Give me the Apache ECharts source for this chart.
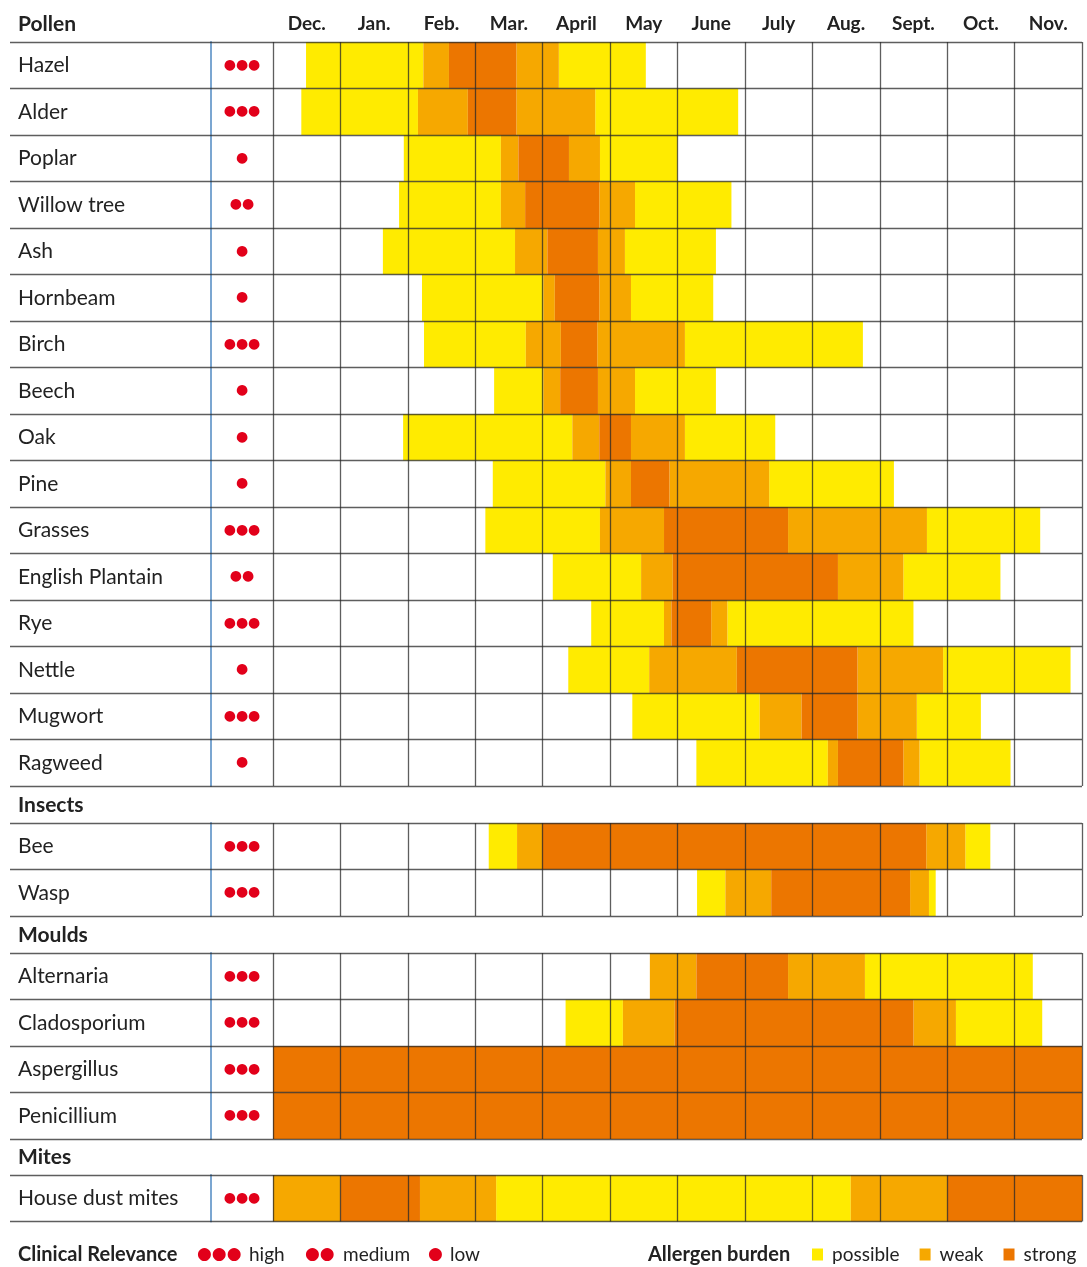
<!DOCTYPE html>
<html>
<head>
<meta charset="utf-8">
<title>Allergen calendar</title>
<script src="https://cdn.jsdelivr.net/npm/echarts@6/dist/echarts.min.js"></script>
<style>
  html, body { margin: 0; padding: 0; background: #fff; }
  #main { width: 1087px; height: 1267px; }
</style>
</head>
<body>
<div id="main"></div>
<script>
  // month columns, Dec. -> Nov.
  const months = ['Dec.', 'Jan.', 'Feb.', 'Mar.', 'April', 'May', 'June', 'July', 'Aug.', 'Sept.', 'Oct.', 'Nov.']

  // allergen burden levels
  const levelNames = ['possible', 'weak', 'strong']
  const levelColors = ['#ffeb00', '#f6a800', '#ec7600']

  // segments: [from month, to month, level]  (0 = start of Dec.)
  const pollenNames = ['Hazel', 'Alder', 'Poplar', 'Willow tree', 'Ash', 'Hornbeam', 'Birch', 'Beech',
    'Oak', 'Pine', 'Grasses', 'English Plantain', 'Rye', 'Nettle', 'Mugwort', 'Ragweed']
  const pollenRelevance = [3, 3, 1, 2, 1, 1, 3, 1, 1, 1, 3, 2, 3, 1, 3, 1]
  const pollenSegments = [
    [[0.49, 2.23, 0], [2.23, 2.61, 1], [2.61, 3.61, 2], [3.61, 4.24, 1], [4.24, 5.53, 0]],
    [[0.42, 2.15, 0], [2.15, 2.89, 1], [2.89, 3.61, 2], [3.61, 4.78, 1], [4.78, 6.90, 0]],
    [[1.94, 3.38, 0], [3.38, 3.64, 1], [3.64, 4.39, 2], [4.39, 4.85, 1], [4.85, 6.00, 0]],
    [[1.87, 3.38, 0], [3.38, 3.74, 1], [3.74, 4.84, 2], [4.84, 5.37, 1], [5.37, 6.80, 0]],
    [[1.63, 3.59, 0], [3.59, 4.07, 1], [4.07, 4.82, 2], [4.82, 5.22, 1], [5.22, 6.57, 0]],
    [[2.21, 4.01, 0], [4.01, 4.18, 1], [4.18, 4.84, 2], [4.84, 5.31, 1], [5.31, 6.53, 0]],
    [[2.24, 3.75, 0], [3.75, 4.27, 1], [4.27, 4.81, 2], [4.81, 6.11, 1], [6.11, 8.75, 0]],
    [[3.28, 4.01, 0], [4.01, 4.26, 1], [4.26, 4.82, 2], [4.82, 5.37, 1], [5.37, 6.57, 0]],
    [[1.93, 4.44, 0], [4.44, 4.84, 1], [4.84, 5.31, 2], [5.31, 6.11, 1], [6.11, 7.45, 0]],
    [[3.26, 4.93, 0], [4.93, 5.31, 1], [5.31, 5.88, 2], [5.88, 7.36, 1], [7.36, 9.21, 0]],
    [[3.15, 4.85, 0], [4.85, 5.80, 1], [5.80, 7.64, 2], [7.64, 9.70, 1], [9.70, 11.38, 0]],
    [[4.15, 5.46, 0], [5.46, 5.93, 1], [5.93, 8.38, 2], [8.38, 9.35, 1], [9.35, 10.79, 0]],
    [[4.72, 5.80, 0], [5.80, 5.91, 1], [5.91, 6.50, 2], [6.50, 6.74, 1], [6.74, 9.50, 0]],
    [[4.38, 5.58, 0], [5.58, 6.88, 1], [6.88, 8.67, 2], [8.67, 9.94, 1], [9.94, 11.83, 0]],
    [[5.33, 7.22, 0], [7.22, 7.84, 1], [7.84, 8.67, 2], [8.67, 9.55, 1], [9.55, 10.50, 0]],
    [[6.28, 8.23, 0], [8.23, 8.38, 1], [8.38, 9.35, 2], [9.35, 9.59, 1], [9.59, 10.94, 0]]
  ]

  const insectNames = ['Bee', 'Wasp']
  const insectRelevance = [3, 3]
  const insectSegments = [
    [[3.20, 3.62, 0], [3.62, 3.99, 1], [3.99, 9.69, 2], [9.69, 10.27, 1], [10.27, 10.64, 0]],
    [[6.29, 6.71, 0], [6.71, 7.39, 1], [7.39, 9.45, 2], [9.45, 9.73, 1], [9.73, 9.83, 0]]
  ]

  const mouldNames = ['Alternaria', 'Cladosporium', 'Aspergillus', 'Penicillium']
  const mouldRelevance = [3, 3, 3, 3]
  const mouldSegments = [
    [[5.59, 6.28, 1], [6.28, 7.64, 2], [7.64, 8.78, 1], [8.78, 11.27, 0]],
    [[4.34, 5.19, 0], [5.19, 5.96, 1], [5.96, 9.50, 2], [9.50, 10.13, 1], [10.13, 11.41, 0]],
    [[0, 12, 2]],
    [[0, 12, 2]]
  ]

  const miteNames = ['House dust mites']
  const miteRelevance = [3]
  const miteSegments = [
    [[0, 1, 1], [1, 2.18, 2], [2.18, 3.31, 1], [3.31, 8.57, 0], [8.57, 10, 1], [10, 12, 2]]
  ]

  const sections = [
    { title: 'Pollen', names: pollenNames, relevance: pollenRelevance, segments: pollenSegments, top: 42 },
    { title: 'Insects', names: insectNames, relevance: insectRelevance, segments: insectSegments, top: 823 },
    { title: 'Moulds', names: mouldNames, relevance: mouldRelevance, segments: mouldSegments, top: 953 },
    { title: 'Mites', names: miteNames, relevance: miteRelevance, segments: miteSegments, top: 1175 }
  ]

  const rowHeight = 46.5
  const textColor = '#222'
  const lineColor = 'rgba(40, 40, 40, 0.75)'
  const fontFamily = 'Lato'

  function renderBar (params, api) {
    let start = api.coord([api.value(0), api.value(2)])
    let end = api.coord([api.value(1), api.value(2)])
    let h = api.size([0, 1])[1]
    return {
      type: 'rect',
      shape: { x: start[0], y: start[1] - h / 2, width: end[0] - start[0], height: h },
      style: { fill: api.visual('color') }
    }
  }

  function buildOption () {
    let grid = []
    let xAxis = []
    let yAxis = []
    let series = []
    let graphic = []

    sections.forEach((s, i) => {
      grid.push({ left: 273, right: 5, top: s.top, height: s.names.length * rowHeight })

      xAxis.push({
        gridIndex: i,
        type: 'value',
        min: 0,
        max: 12,
        interval: 1,
        z: 10,
        axisLine: { show: false },
        axisTick: { show: false },
        axisLabel: { show: false },
        splitLine: { lineStyle: { color: lineColor, width: 1.3 } }
      })

      yAxis.push({
        gridIndex: i,
        type: 'category',
        data: s.names,
        inverse: true,
        z: 10,
        axisLine: { show: false },
        axisTick: { show: true, interval: 0, length: 263, lineStyle: { color: lineColor, width: 1.3 } },
        splitLine: { show: true, interval: 0, lineStyle: { color: lineColor, width: 1.3 } },
        axisLabel: {
          interval: 0,
          margin: 255,
          align: 'left',
          formatter: function (value, index) {
            return '{n|' + value + '}{d|' + '●'.repeat(s.relevance[index]) + '}'
          },
          rich: {
            n: { width: 193, fontSize: 21, color: textColor, fontFamily: fontFamily },
            d: { width: 62, align: 'center', fontSize: 14, color: '#e2001a', fontFamily: 'DejaVu Sans' }
          }
        }
      })
      // blue separator between names and relevance dots
      yAxis.push({
        gridIndex: i,
        type: 'category',
        data: s.names,
        inverse: true,
        position: 'left',
        offset: 62,
        axisLine: { show: true, lineStyle: { color: '#7ba6d1', width: 2 } },
        axisTick: { show: false },
        axisLabel: { show: false },
        splitLine: { show: false }
      })

      levelNames.forEach((name, level) => {
        let data = []
        s.segments.forEach((row, r) => {
          row.forEach(seg => {
            if (seg[2] === level) data.push([seg[0], seg[1], r])
          })
        })
        series.push({
          type: 'custom',
          name: name,
          xAxisIndex: i,
          yAxisIndex: i * 2,
          encode: { x: [0, 1], y: 2 },
          itemStyle: { color: levelColors[level] },
          renderItem: renderBar,
          data: data
        })
      })

      graphic.push({
        type: 'text',
        x: 18,
        y: s.top - 18,
        style: { text: s.title, fontSize: 21, fontWeight: 'bold', fill: textColor, fontFamily: fontFamily, verticalAlign: 'middle' }
      })
    })

    // month labels on top of the first block
    xAxis.push({
      gridIndex: 0,
      type: 'category',
      position: 'top',
      data: months,
      axisLine: { show: false },
      axisTick: { show: false },
      splitLine: { show: false },
      axisLabel: { interval: 0, margin: 9, fontSize: 19, fontWeight: 'bold', color: textColor, fontFamily: fontFamily }
    })

    // clinical relevance key
    const keyY = 1255
    const keyItems = [
      { x: 18, text: 'Clinical Relevance', bold: true },
      { x: 197, text: '●●●', dot: true },
      { x: 249, text: 'high' },
      { x: 305, text: '●●', dot: true },
      { x: 343, text: 'medium' },
      { x: 428, text: '●', dot: true },
      { x: 450, text: 'low' },
      { x: 648, text: 'Allergen burden', bold: true }
    ]
    keyItems.forEach(k => {
      graphic.push({
        type: 'text',
        x: k.x,
        y: keyY,
        style: {
          text: k.text,
          fontSize: k.dot ? 17 : (k.bold ? 20 : 19),
          fontWeight: k.bold ? 'bold' : 'normal',
          fill: k.dot ? '#e2001a' : textColor,
          fontFamily: k.dot ? 'DejaVu Sans' : fontFamily,
          verticalAlign: 'middle'
        }
      })
    })

    return {
      animation: false,
      backgroundColor: '#fff',
      grid: grid,
      xAxis: xAxis,
      yAxis: yAxis,
      legend: {
        data: levelNames,
        left: 812,
        top: keyY - 10,
        padding: 0,
        icon: 'rect',
        itemWidth: 11,
        itemHeight: 12,
        itemGap: 20,
        selectedMode: false,
        textStyle: { fontSize: 19, color: textColor, fontFamily: fontFamily, padding: [0, 0, 0, 4] }
      },
      graphic: graphic,
      series: series
    }
  }

  const chart = echarts.init(document.getElementById('main'))
  chart.setOption(buildOption())
  window.addEventListener('resize', function () {
    chart.resize()
  })
</script>
</body>
</html>
